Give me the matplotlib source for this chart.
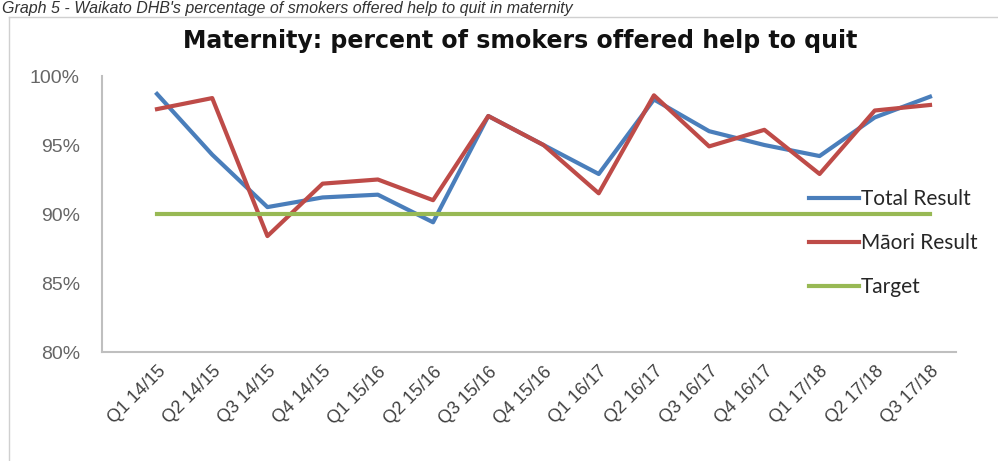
import matplotlib.pyplot as plt
from matplotlib.lines import Line2D

quarters = ['Q1 14/15', 'Q2 14/15', 'Q3 14/15', 'Q4 14/15', 'Q1 15/16', 'Q2 15/16',
            'Q3 15/16', 'Q4 15/16', 'Q1 16/17', 'Q2 16/17', 'Q3 16/17', 'Q4 16/17',
            'Q1 17/18', 'Q2 17/18', 'Q3 17/18']
total_result = [98.7, 94.3, 90.5, 91.2, 91.4, 89.4, 97.1, 95.0, 92.9, 98.3,
                96.0, 95.0, 94.2, 97.0, 98.5]
maori_result = [97.6, 98.4, 88.4, 92.2, 92.5, 91.0, 97.1, 95.0, 91.5, 98.6,
                94.9, 96.1, 92.9, 97.5, 97.9]
target = [90] * len(quarters)
y_ticks = [80, 85, 90, 95, 100]

W, H = 998, 461
fig = plt.figure(figsize=(W / 100, H / 100), dpi=100)

# document caption above the chart frame
fig.text(2 / W, 1 - 1 / H, "Graph 5 - Waikato DHB's percentage of smokers offered help to quit in maternity",
         fontsize=11.5, style='italic', color='#333333', va='top', ha='left',
         family='Liberation Sans')

# chart frame (left and top edges)
fig.add_artist(Line2D([9 / W, 9 / W], [0, 1 - 17 / H], color='#d0d0d0', lw=1))
fig.add_artist(Line2D([9 / W, 1], [1 - 17 / H, 1 - 17 / H], color='#d0d0d0', lw=1))

ax = fig.add_axes([102 / W, 1 - 352 / H, (956 - 102) / W, (352 - 76) / H])
x = list(range(len(quarters)))
ax.plot(x, total_result, color='#4a7ebb', lw=3, label='Total Result')
ax.plot(x, maori_result, color='#be4b48', lw=3, label='Māori Result')
ax.plot(x, target, color='#98b954', lw=3, label='Target')

step = (930 - 157) / 14
ax.set_xlim(-(157 - 102) / step, 14 + (956 - 930) / step)
ax.set_ylim(80, 100)
ax.set_yticks(y_ticks)
ax.set_yticklabels([f'{v}%' for v in y_ticks], fontsize=14, color='#666666',
                   family='Liberation Sans')
ax.set_xticks(x)
ax.set_xticklabels(quarters, rotation=45, ha='right', va='top', rotation_mode='anchor',
                   fontsize=13, color='#404040', family='Liberation Sans')
ax.tick_params(length=0)
ax.tick_params(axis='x', pad=8)
ax.tick_params(axis='y', pad=16)
for s in ['top', 'right']:
    ax.spines[s].set_visible(False)
for s in ['left', 'bottom']:
    ax.spines[s].set_color('#bfbfbf')
    ax.spines[s].set_linewidth(1.5)

fig.text(520 / W, 1 - 41 / H, 'Maternity: percent of smokers offered help to quit',
         fontsize=17, fontweight='bold', ha='center', va='center', family='DejaVu Sans',
         color='#111111')

leg = ax.legend(loc='upper left', bbox_to_anchor=((809 - 102) / (956 - 102), (352 - 189) / (352 - 76)),
                frameon=False, handlelength=2.4, handletextpad=0.1,
                labelspacing=1.15, borderaxespad=0, borderpad=0,
                prop={'family': 'Lato', 'size': 15})
for t in leg.get_texts():
    t.set_color('#262626')

fig.savefig('out.png', dpi=100)
